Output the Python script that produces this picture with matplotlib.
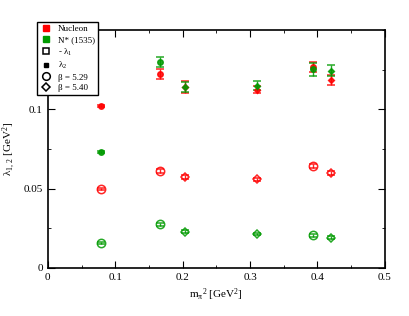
import matplotlib.pyplot as plt
from matplotlib.lines import Line2D
from matplotlib.ticker import MultipleLocator

plt.rcParams['font.family'] = ['Liberation Serif', 'DejaVu Serif']
plt.rcParams['mathtext.fontset'] = 'custom'
plt.rcParams['mathtext.rm'] = 'Liberation Serif'
plt.rcParams['mathtext.it'] = 'Liberation Serif'

# datos
mpi2 = [0.079, 0.166, 0.203, 0.311, 0.393, 0.420]
beta = [5.29, 5.29, 5.40, 5.40, 5.29, 5.40]

nuc_l2 = [0.1021, 0.1222, 0.1140, 0.1122, 0.1266, 0.1184]
nuc_l2_err = [0.0007, 0.0030, 0.0036, 0.0022, 0.0030, 0.0030]
nuc_l1 = [0.0498, 0.0610, 0.0574, 0.0559, 0.0641, 0.0599]
nuc_l1_err = [0.0008, 0.0012, 0.0012, 0.0010, 0.0012, 0.0012]

nst_l2 = [0.0732, 0.1300, 0.1141, 0.1148, 0.1253, 0.1243]
nst_l2_err = [0.0006, 0.0032, 0.0034, 0.0028, 0.0040, 0.0034]
nst_l1 = [0.0156, 0.0276, 0.0228, 0.0215, 0.0205, 0.0192]
nst_l1_err = [0.0008, 0.0010, 0.0010, 0.0008, 0.0008, 0.0008]

red = '#ff0000'
green = '#009a00'
markers = {5.29: 'o', 5.40: 'D'}
sizes = {5.29: 6, 5.40: 4.5}

fig = plt.figure(figsize=(4.09, 3.16), dpi=100)
ax = fig.add_axes([0.117, 0.152, 0.824, 0.753])

series = [
    (nuc_l1, nuc_l1_err, red, False),
    (nst_l1, nst_l1_err, green, False),
    (nuc_l2, nuc_l2_err, red, True),
    (nst_l2, nst_l2_err, green, True),
]
for vals, errs, col, filled in series:
    for x, y, e, b in zip(mpi2, vals, errs, beta):
        ms = sizes[b] * (0.65 if filled else 1.0)
        ax.errorbar(x, y, yerr=e, fmt=markers[b], ms=ms, mew=1.1,
                    mfc=col if filled else 'none', mec=col, color=col,
                    elinewidth=1.0, capsize=3, capthick=1.0, alpha=0.85)

ax.set_xlim(0, 0.5)
ax.set_ylim(0, 0.15)
ax.set_xticks([0, 0.1, 0.2, 0.3, 0.4, 0.5])
ax.set_xticklabels(['0', '0.1', '0.2', '0.3', '0.4', '0.5'])
ax.set_yticks([0, 0.05, 0.1])
ax.set_yticklabels(['0', '0.05', '0.1'])
ax.xaxis.set_minor_locator(MultipleLocator(0.05))
ax.yaxis.set_minor_locator(MultipleLocator(0.025))
ax.tick_params(which='both', direction='in', top=True, right=True, labelsize=8)
ax.tick_params(which='major', length=5)
ax.tick_params(which='minor', length=2.5)
for s in ax.spines.values():
    s.set_linewidth(1.2)

ax.set_xlabel(r'm$_\mathregular{π}$$^2$ [GeV$^2$]', fontsize=8, labelpad=3)
ax.set_ylabel(r'λ$_{1,\,2}$ [GeV$^2$]', fontsize=8, labelpad=4)

handles = [
    Line2D([], [], ls='none', marker='s', ms=5, mfc=red, mec=red),
    Line2D([], [], ls='none', marker='s', ms=5, mfc=green, mec=green),
    Line2D([], [], ls='none', marker='s', ms=5, mfc='none', mec='black', mew=1.1),
    Line2D([], [], ls='none', marker='s', ms=3.5, mfc='black', mec='black'),
    Line2D([], [], ls='none', marker='o', ms=5.5, mfc='none', mec='black', mew=1.1),
    Line2D([], [], ls='none', marker='D', ms=4.2, mfc='none', mec='black', mew=1.1),
]
labels = ['Nucleon', 'N* (1535)', '- λ$_1$', 'λ$_2$',
          'β = 5.29', 'β = 5.40']
leg = fig.legend(handles, labels, loc='upper left',
                 bbox_to_anchor=(37 / 409, 1 - 22 / 316),
                 fontsize=6.5, frameon=True, fancybox=False, framealpha=1,
                 edgecolor='black', borderpad=0.35, labelspacing=0.25,
                 handletextpad=0.8, handlelength=1.2, borderaxespad=0)
leg.get_frame().set_linewidth(1.0)

plt.savefig('out.png', dpi=100)
plt.close(fig)
